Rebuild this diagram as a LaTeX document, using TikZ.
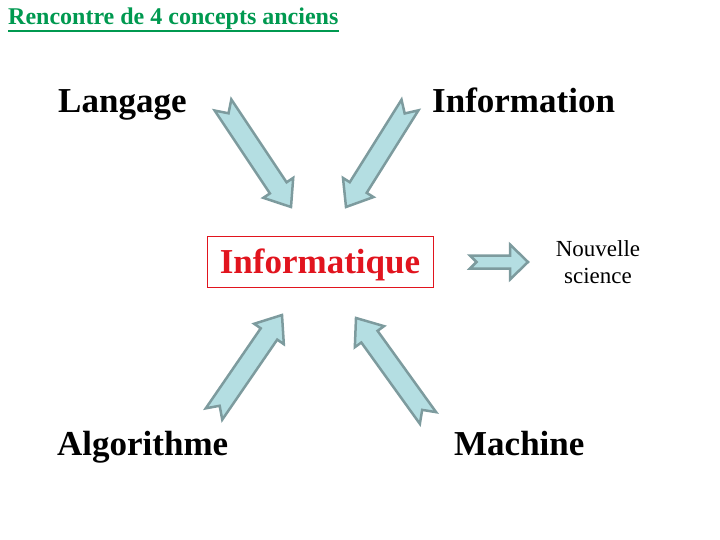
\documentclass[tikz,border=0pt]{standalone}
\usepackage{fontspec}
\setmainfont{Liberation Serif}
\usetikzlibrary{calc}
\definecolor{titlegreen}{RGB}{0,153,80}
\definecolor{arrowfill}{RGB}{180,222,226}
\definecolor{arrowline}{RGB}{125,155,158}
\definecolor{boxred}{RGB}{225,20,30}
\newcommand{\fatarrow}[5]{%
\coordinate (#1-#2) at ($(#2)!#5!(#1)$);
\draw[fatarrow] ($(#1)!#3!90:(#2)$) -- ($(#1-#2)!#3!90:(#2)$) -- ($(#1-#2)!#4!90:(#2)$) -- (#2)
  -- ($(#1-#2)!#4!-90:(#2)$) -- ($(#1-#2)!#3!-90:(#2)$) -- ($(#1)!#3!-90:(#2)$) -- ($(#1)!#3!(#2)$) -- cycle;
}
\begin{document}
\begin{tikzpicture}[x=1pt, y=-1pt,
  title/.style={anchor=base west, inner sep=0pt, text=titlegreen, font=\fontsize{24}{28}\selectfont\bfseries},
  concept/.style={anchor=base west, inner sep=0pt, font=\fontsize{35}{42}\selectfont\bfseries},
  centre/.style={draw=boxred, text=boxred, line width=0.8pt, minimum width=226pt, minimum height=51pt, text height=30pt, text depth=7pt, inner sep=0pt, font=\fontsize{35}{42}\selectfont\bfseries},
  note/.style={align=center, inner sep=0pt, font=\fontsize{23}{27}\selectfont},
  fatarrow/.style={draw=arrowline, fill=arrowfill, line width=2.5pt, line join=miter}]
\useasboundingbox (0,0) rectangle (720,540);
\node[title] (titre) at (8,25) {Rencontre de 4 concepts anciens};
\draw[titlegreen, line width=1.6pt] ([yshift=-6pt]titre.base west) -- ([yshift=-6pt]titre.base east);

\node[concept] (langage) at (58,113) {Langage};
\node[concept] (information) at (432,113) {Information};
\node[concept] (algorithme) at (57,455) {Algorithme};
\node[concept] (machine) at (454,455) {Machine};
\node[centre] (informatique) at (320,261.5) {Informatique};
\node[note] (nouvelle) at (598,262) {Nouvelle\\science};

\coordinate (lt) at (223,105);
\coordinate (ltip) at (291,207);
\coordinate (rt) at (410,105);
\coordinate (rtip) at (346,207);
\coordinate (lb) at (214,414);
\coordinate (lbip) at (282,315);
\coordinate (rb) at (428,418);
\coordinate (rbip) at (356,318);
\coordinate (st) at (470,262);
\coordinate (stip) at (528,262);

\fatarrow{lt}{ltip}{10pt}{18pt}{23pt}
\fatarrow{rt}{rtip}{10pt}{18pt}{23pt}
\fatarrow{lb}{lbip}{10pt}{18pt}{23pt}
\fatarrow{rb}{rbip}{10pt}{18pt}{23pt}
\fatarrow{st}{stip}{6.5pt}{17.5pt}{18pt}
\end{tikzpicture}
\end{document}
